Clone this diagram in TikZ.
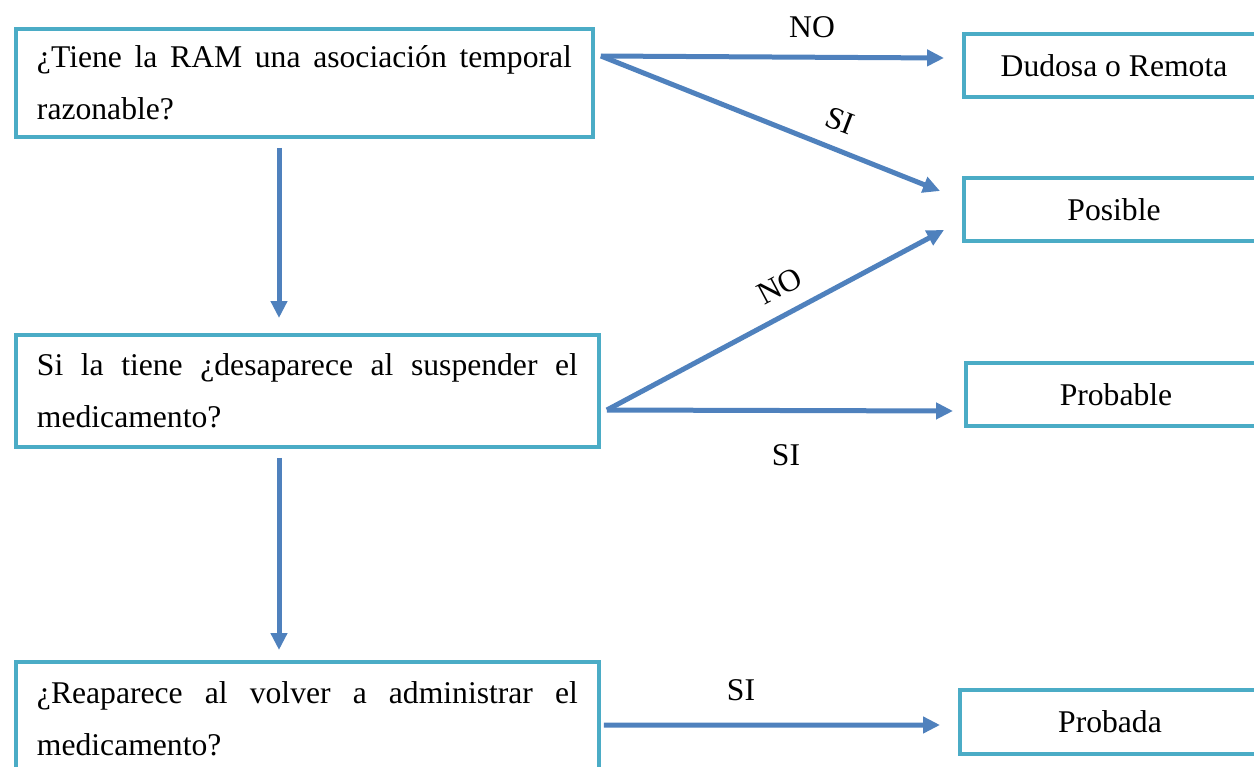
\documentclass[tikz,border=0pt]{standalone}
\usepackage{fontspec}
\setmainfont{Liberation Serif}
\usetikzlibrary{arrows.meta, positioning}

\definecolor{boxcyan}{HTML}{4BACC6}
\definecolor{flowblue}{HTML}{4F81BD}

\tikzset{
	question/.style={draw=boxcyan, line width=0.08cm, align=justify, inner xsep=0.42cm, anchor=west},
	result/.style={draw=boxcyan, line width=0.08cm, minimum width=6cm, minimum height=1.28cm},
	flow/.style={->, draw=flowblue, line width=0.1cm}
}

\begin{document}
\begin{tikzpicture}[x=0.02cm, y=-0.02cm,
			>={Triangle[length=0.34cm, width=0.32cm]},
			font=\fontsize{18}{29.6}\selectfont]
			
			\path[use as bounding box, clip] (0,0) rectangle (1254,767);
			
			% preguntas
			\node[question, text width=10.7cm, minimum height=2.16cm] (q1) at (14,83) {¿Tiene la RAM una asociación temporal\linebreak razonable?};
			\node[question, text width=10.82cm, minimum height=2.24cm] (q2) at (14,391) {Si la tiene ¿desaparece al suspender el\linebreak medicamento?};
			\node[question, text width=10.82cm, minimum height=2.28cm] (q3) at (14,719) {¿Reaparece al volver a administrar el\linebreak medicamento?};
			
			% resultados
			\node[result] (r1) at (1114,65.5) {Dudosa o Remota};
			\node[result] (r2) at (1114,209.5) {Posible};
			\node[result] (r3) at (1116,394.5) {Probable};
			\node[result] (r4) at (1110,722) {Probada};
			
			\coordinate (axis) at (279,391);
			\coordinate (q1out) at ([xshift=0.12cm, yshift=-0.58cm]q1.north east);
			\coordinate (q2out) at ([xshift=0.12cm, yshift=-0.38cm]q2.east);
			
			\draw[flow, shorten <=0.18cm, shorten >=0.3cm] (q1.south -| axis) -- (q2.north -| axis);
			\draw[flow, shorten <=0.18cm, shorten >=0.2cm] (q2.south -| axis) -- (q3.north -| axis);
			\draw[flow] (q1out) -- ([xshift=-0.36cm, yshift=0.15cm]r1.west);
			\draw[flow] (q1out) -- ([xshift=-0.44cm, yshift=0.37cm]r2.west);
			\draw[flow] (q2out) -- ([xshift=-0.36cm, yshift=-0.41cm]r2.west);
			\draw[flow] (q2out) -- ([xshift=-0.22cm, yshift=-0.33cm]r3.west);
			\draw[flow] ([xshift=0.06cm, yshift=-0.12cm]q3.east) -- ([xshift=-0.36cm, yshift=-0.06cm]r4.west);
			
			% etiquetas
			\node (noA) at (812,27) {NO};
			\node[rotate=-21] (siA) at (840,121) {SI};
			\node[rotate=28] (noB) at (780,286) {NO};
			\node (siB) at (786,455) {SI};
			\node (siC) at (741,690) {SI};
		\end{tikzpicture}
\end{document}
